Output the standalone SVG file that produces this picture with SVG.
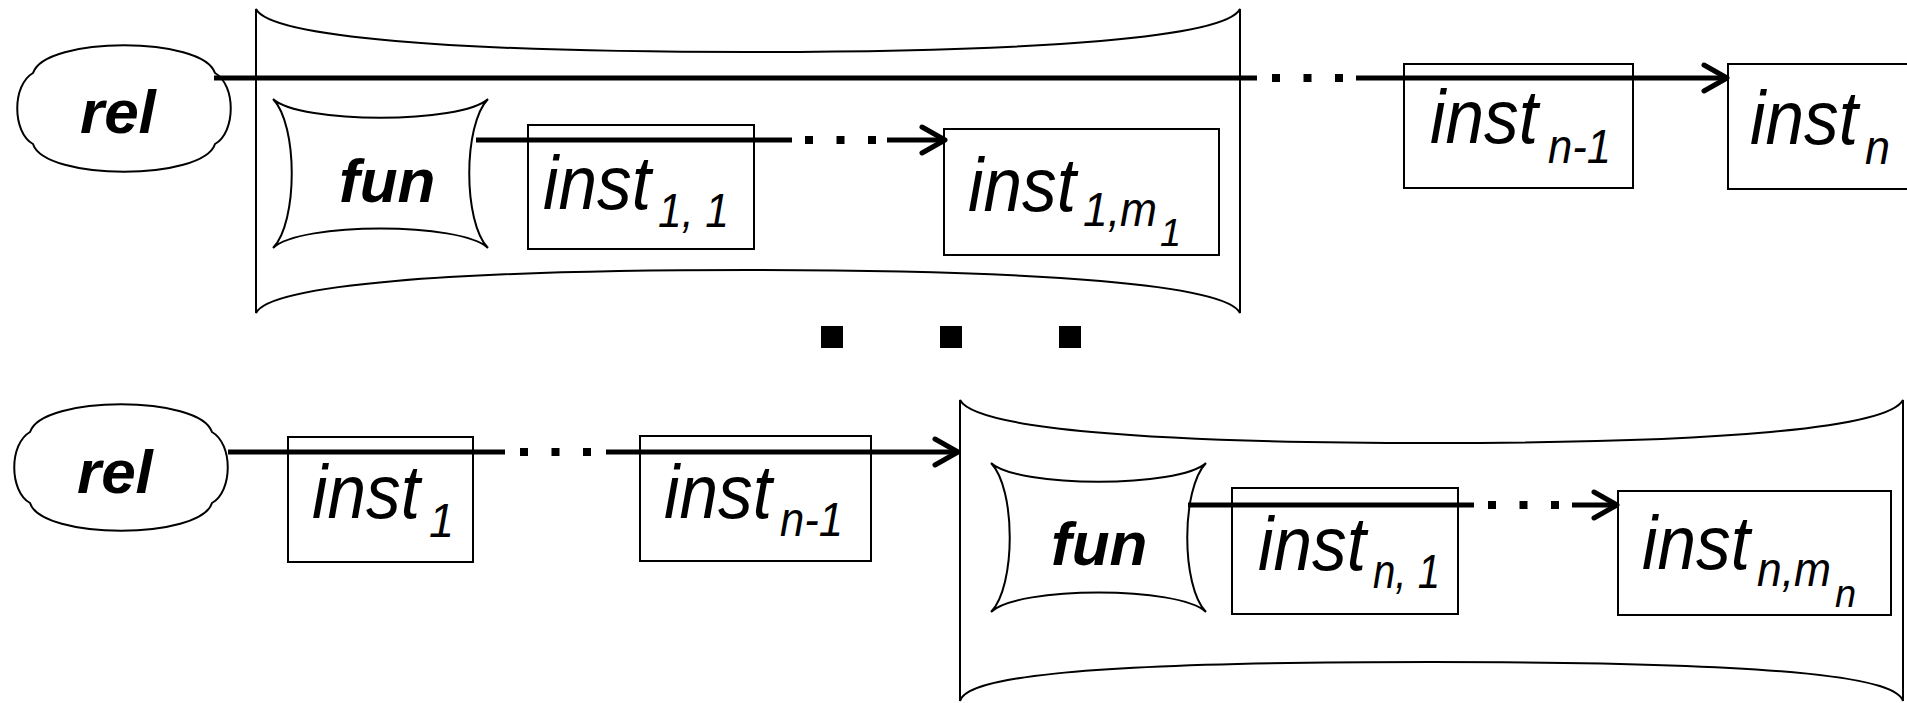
<svg xmlns="http://www.w3.org/2000/svg" width="1907" height="703" viewBox="0 0 1907 703">
<style>
.shape{fill:#fff;stroke:#000;stroke-width:2}
.box{fill:none;stroke:#000;stroke-width:2}
.lbl{font-family:"Liberation Sans",Arial,sans-serif;font-style:italic;fill:#000}
.main{font-size:76px}
.sub{font-size:48px}
.sub2{font-size:38px}
.bold{font-weight:bold;font-size:62px}
.conn line{stroke:#000;stroke-width:5;fill:none}
.conn line.dots{stroke-width:8;stroke-dasharray:8 23.5}
</style>
<defs>
<marker id="chev" markerUnits="userSpaceOnUse" markerWidth="34" markerHeight="34" viewBox="0 0 34 34" refX="28" refY="17" orient="auto" overflow="visible">
<path d="M5,4 L28,17 L5,30" fill="none" stroke="#000" stroke-width="5" stroke-linecap="round" stroke-linejoin="round"/>
</marker>
</defs>
<rect width="1907" height="703" fill="#fff"/>

<g id="container1">
<path class="shape" d="M256,9 C270,37 450,52 748,52 C1046,52 1226,37 1240,9 L1240,313 C1226,285 1046,270 748,270 C450,270 270,285 256,313 Z"/>
</g>
<g id="container2">
<path class="shape" d="M960,400 C975,428 1140,443 1431,443 C1722,443 1888,428 1903,400 L1903,701 C1896,680 1812,662 1431,662 C1050,662 966,680 960,701 Z"/>
</g>

<g id="rel1">
<path class="shape" d="M33,73 C45,36 203,36 215,73 C236,85 236,132 215,144 C203,181 45,181 33,144 C12,132 12,85 33,73 Z"/>
<text class="lbl bold" x="80" y="133">rel</text>
</g>
<g id="rel2">
<path class="shape" d="M30,432 C42,395 200,395 212,432 C233,444 233,491 212,503 C200,540 42,540 30,503 C9,491 9,444 30,432 Z"/>
<text class="lbl bold" x="77" y="493">rel</text>
</g>

<g id="fun1">
<path class="shape" d="M273,99 C300,124 461,124 488,99 C463,125 463,222 488,248 C461,222 300,222 273,248 C298,222 298,125 273,99 Z"/>
<text class="lbl bold" x="339" y="202">fun</text>
</g>
<g id="fun2">
<path class="shape" d="M991,463 C1018,488 1179,488 1206,463 C1181,489 1181,586 1206,612 C1179,586 1018,586 991,612 C1016,586 1016,489 991,463 Z"/>
<text class="lbl bold" x="1051" y="565">fun</text>
</g>

<g id="inst_1_1">
<rect class="box" x="528" y="125" width="226" height="124"/>
<text class="lbl main" x="543" y="209" textLength="108" lengthAdjust="spacingAndGlyphs">inst</text>
<text class="lbl sub" x="658" y="227" textLength="71" lengthAdjust="spacingAndGlyphs">1, 1</text>
</g>
<g id="inst_1_m1">
<rect class="box" x="944" y="129" width="275" height="126"/>
<text class="lbl main" x="968" y="211" textLength="108" lengthAdjust="spacingAndGlyphs">inst</text>
<text class="lbl sub" x="1083" y="226" textLength="74" lengthAdjust="spacingAndGlyphs">1,m</text>
<text class="lbl sub2" x="1160" y="246">1</text>
</g>
<g id="inst_n_minus_1_top">
<rect class="box" x="1404" y="64" width="229" height="124"/>
<text class="lbl main" x="1430" y="143" textLength="108" lengthAdjust="spacingAndGlyphs">inst</text>
<text class="lbl sub" x="1548" y="163" textLength="63" lengthAdjust="spacingAndGlyphs">n-1</text>
</g>
<g id="inst_n_top">
<rect class="box" x="1728" y="64" width="200" height="125"/>
<text class="lbl main" x="1750" y="144" textLength="108" lengthAdjust="spacingAndGlyphs">inst</text>
<text class="lbl sub" x="1865" y="164" textLength="25" lengthAdjust="spacingAndGlyphs">n</text>
</g>

<g id="inst_1_bottom">
<rect class="box" x="288" y="437" width="185" height="125"/>
<text class="lbl main" x="312" y="518" textLength="108" lengthAdjust="spacingAndGlyphs">inst</text>
<text class="lbl sub" x="429" y="537" textLength="25" lengthAdjust="spacingAndGlyphs">1</text>
</g>
<g id="inst_n_minus_1_bottom">
<rect class="box" x="640" y="436" width="231" height="125"/>
<text class="lbl main" x="664" y="518" textLength="108" lengthAdjust="spacingAndGlyphs">inst</text>
<text class="lbl sub" x="780" y="536" textLength="63" lengthAdjust="spacingAndGlyphs">n-1</text>
</g>
<g id="inst_n_1">
<rect class="box" x="1232" y="488" width="226" height="126"/>
<text class="lbl main" x="1258" y="570" textLength="108" lengthAdjust="spacingAndGlyphs">inst</text>
<text class="lbl sub" x="1373" y="588" textLength="67" lengthAdjust="spacingAndGlyphs">n, 1</text>
</g>
<g id="inst_n_mn">
<rect class="box" x="1618" y="491" width="273" height="124"/>
<text class="lbl main" x="1642" y="569" textLength="108" lengthAdjust="spacingAndGlyphs">inst</text>
<text class="lbl sub" x="1757" y="586" textLength="74" lengthAdjust="spacingAndGlyphs">n,m</text>
<text class="lbl sub2" x="1835" y="607">n</text>
</g>

<g id="ellipsis">
<rect x="821" y="326" width="22" height="22" fill="#000"/>
<rect x="940" y="326" width="22" height="22" fill="#000"/>
<rect x="1059" y="326" width="22" height="22" fill="#000"/>
</g>

<g id="connectors" class="conn">
<g id="conn_top_main">
<line x1="214" y1="78" x2="1257" y2="78"/>
<line class="dots" x1="1272" y1="78" x2="1344" y2="78"/>
<line x1="1356" y1="78" x2="1727" y2="78" marker-end="url(#chev)"/>
</g>
<g id="conn_top_fun">
<line x1="476" y1="140" x2="792" y2="140"/>
<line class="dots" x1="805" y1="140" x2="877" y2="140"/>
<line x1="887" y1="140" x2="945" y2="140" marker-end="url(#chev)"/>
</g>
<g id="conn_bottom_main">
<line x1="228" y1="452" x2="505" y2="452"/>
<line class="dots" x1="520" y1="452" x2="592" y2="452"/>
<line x1="606" y1="452" x2="958" y2="452" marker-end="url(#chev)"/>
</g>
<g id="conn_bottom_fun">
<line x1="1188" y1="505" x2="1474" y2="505"/>
<line class="dots" x1="1488" y1="505" x2="1560" y2="505"/>
<line x1="1572" y1="505" x2="1617" y2="505" marker-end="url(#chev)"/>
</g>
</g>
</svg>
